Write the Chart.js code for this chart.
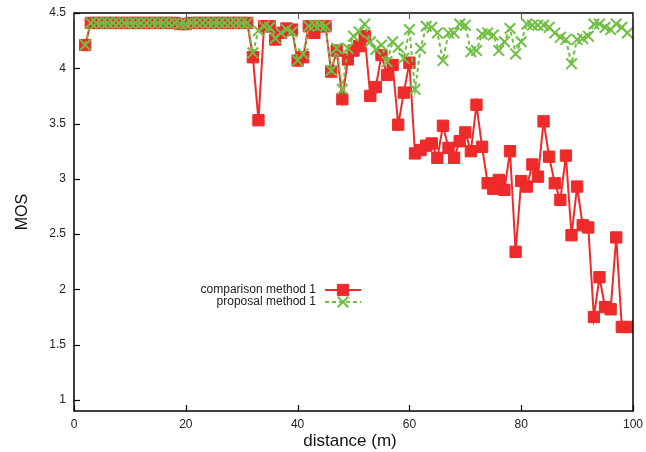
<!DOCTYPE html>
<html>
<head>
<meta charset="utf-8">
<script src="https://cdn.jsdelivr.net/npm/chart.js@4.4.1/dist/chart.umd.min.js"></script>
<style>
  html, body { margin: 0; padding: 0; background: #fff; }
  canvas { display: block; }
</style>
</head>
<body>
<canvas id="mosChart" width="646" height="452"></canvas>
<script>
// distance (m) of each sample
const distance = [
  2, 3, 4, 5, 6, 7, 8, 9, 10, 11, 12, 13, 14, 15, 16, 17, 18, 19, 20, 21,
  22, 23, 24, 25, 26, 27, 28, 29, 30, 31, 32, 33, 34, 35, 36, 37, 38, 39, 40, 41,
  42, 43, 44, 45, 46, 47, 48, 49, 50, 51, 52, 53, 54, 55, 56, 57, 58, 59, 60, 61,
  62, 63, 64, 65, 66, 67, 68, 69, 70, 71, 72, 73, 74, 75, 76, 77, 78, 79, 80, 81,
  82, 83, 84, 85, 86, 87, 88, 89, 90, 91, 92, 93, 94, 95, 96, 97, 98, 99
];

// MOS, comparison method 1
const comparisonMos = [
  4.21, 4.41, 4.41, 4.41, 4.41, 4.41, 4.41, 4.41, 4.41, 4.41, 4.41, 4.41, 4.41, 4.41, 4.41, 4.41, 4.41, 4.40, 4.40, 4.41,
  4.41, 4.41, 4.41, 4.41, 4.41, 4.41, 4.41, 4.41, 4.41, 4.41, 4.10, 3.53, 4.38, 4.38, 4.26, 4.32, 4.36, 4.35, 4.07, 4.10,
  4.38, 4.32, 4.38, 4.38, 3.97, 4.16, 3.72, 4.08, 4.16, 4.20, 4.29, 3.75, 3.83, 4.12, 3.94, 4.03, 3.49, 3.78, 4.05, 3.23,
  3.26, 3.30, 3.32, 3.19, 3.48, 3.28, 3.19, 3.34, 3.42, 3.25, 3.67, 3.29, 2.96, 2.91, 2.99, 2.90, 3.25, 2.34, 2.98, 2.93,
  3.13, 3.02, 3.52, 3.20, 2.96, 2.81, 3.21, 2.49, 2.93, 2.58, 2.56, 1.75, 2.11, 1.84, 1.82, 2.47, 1.66, 1.66
];

// MOS, proposal method 1
const proposalMos = [
  4.21, 4.41, 4.41, 4.41, 4.41, 4.41, 4.41, 4.41, 4.41, 4.41, 4.41, 4.41, 4.41, 4.41, 4.41, 4.41, 4.41, 4.40, 4.40, 4.41,
  4.41, 4.41, 4.41, 4.41, 4.41, 4.41, 4.41, 4.41, 4.41, 4.41, 4.14, 4.34, 4.38, 4.37, 4.27, 4.32, 4.35, 4.33, 4.07, 4.13,
  4.38, 4.39, 4.39, 4.38, 3.98, 4.18, 3.81, 4.18, 4.29, 4.33, 4.40, 4.24, 4.17, 4.21, 4.06, 4.24, 4.19, 4.09, 4.35, 3.81,
  4.18, 4.38, 4.37, 4.32, 4.07, 4.32, 4.32, 4.40, 4.39, 4.15, 4.16, 4.31, 4.32, 4.30, 4.16, 4.24, 4.36, 4.13, 4.24, 4.40,
  4.39, 4.39, 4.39, 4.37, 4.32, 4.28, 4.26, 4.04, 4.26, 4.27, 4.29, 4.40, 4.40, 4.37, 4.35, 4.40, 4.37, 4.32
];

const xTicks = [0, 20, 40, 60, 80, 100];
const xTickLabels = ["0", "20", "40", "60", "80", "100"];
const yTicks = [1, 1.5, 2, 2.5, 3, 3.5, 4, 4.5];
const yTickLabels = ["1", "1.5", "2", "2.5", "3", "3.5", "4", "4.5"];

const RED = "#ee2a2a";
const GREEN = "#6fbf44";
const FONT = "'Liberation Sans', Arial, Helvetica, sans-serif";

const toPoints = (ys) => distance.map((d, i) => ({ x: d, y: ys[i] }));

// box around the plot with inward tick marks, x label and the key
const framePlugin = {
  id: "frame",
  afterDatasetsDraw(chart) {
    const { ctx, chartArea: a, scales: { x, y } } = chart;
    ctx.save();

    ctx.strokeStyle = "#000";
    ctx.lineWidth = 1.5;
    ctx.strokeRect(a.left, a.top, a.right - a.left, a.bottom - a.top);

    ctx.lineWidth = 1.2;
    xTicks.forEach((v) => {
      const px = Math.round(x.getPixelForValue(v)) + 0.5;
      ctx.strokeStyle = "#000";
      ctx.beginPath();
      ctx.moveTo(px, a.bottom);
      ctx.lineTo(px, a.bottom - 6);
      ctx.stroke();
      ctx.strokeStyle = "#666";
      ctx.beginPath();
      ctx.moveTo(px, a.top);
      ctx.lineTo(px, a.top + 6);
      ctx.stroke();
    });
    ctx.strokeStyle = "#000";
    yTicks.forEach((v) => {
      const py = Math.round(y.getPixelForValue(v)) + 0.5;
      ctx.beginPath();
      ctx.moveTo(a.left, py);
      ctx.lineTo(a.left + 6, py);
      ctx.stroke();
    });

    // x axis label
    ctx.fillStyle = "#111";
    ctx.font = "17px " + FONT;
    ctx.textAlign = "center";
    ctx.textBaseline = "middle";
    ctx.fillText("distance (m)", 350, 441);

    // key: text on the left, sample line and marker on the right
    const keyRight = 316;
    const sampleX0 = 325;
    const sampleX1 = 361;
    const markX = 343;
    const rows = [
      { text: "comparison method 1", y: 290, color: RED, dash: [], point: { pointStyle: "rect", radius: 8, rotation: 0, borderWidth: 1 } },
      { text: "proposal method 1", y: 302, color: GREEN, dash: [4, 3], point: { pointStyle: "crossRot", radius: 7.5, rotation: 0, borderWidth: 2 } }
    ];
    ctx.font = "12px " + FONT;
    ctx.textAlign = "right";
    rows.forEach((r) => {
      ctx.fillStyle = "#222";
      ctx.fillText(r.text, keyRight, r.y);

      ctx.strokeStyle = r.color;
      ctx.lineWidth = 2;
      ctx.setLineDash(r.dash);
      ctx.beginPath();
      ctx.moveTo(sampleX0, r.y);
      ctx.lineTo(sampleX1, r.y);
      ctx.stroke();
      ctx.setLineDash([]);

      ctx.fillStyle = r.color;
      ctx.strokeStyle = r.color;
      ctx.lineWidth = r.point.borderWidth;
      Chart.helpers.drawPoint(ctx, r.point, markX, r.y);
    });

    ctx.restore();
  }
};

new Chart(document.getElementById("mosChart"), {
  type: "line",
  data: {
    datasets: [
      {
        label: "comparison method 1",
        data: toPoints(comparisonMos),
        borderColor: RED,
        backgroundColor: RED,
        borderWidth: 2,
        pointStyle: "rect",
        pointRadius: 8,
        pointBorderWidth: 1,
        pointBorderColor: RED,
        pointBackgroundColor: RED,
        tension: 0,
        order: 1
      },
      {
        label: "proposal method 1",
        data: toPoints(proposalMos),
        borderColor: GREEN,
        backgroundColor: GREEN,
        borderWidth: 2,
        borderDash: [4, 3],
        pointStyle: "crossRot",
        pointRadius: 7.5,
        pointBorderWidth: 2,
        pointBorderColor: GREEN,
        tension: 0,
        order: 0
      }
    ]
  },
  options: {
    responsive: false,
    devicePixelRatio: 1,
    animation: false,
    layout: { padding: { top: 13, right: 13, left: 0, bottom: 0 } },
    plugins: {
      legend: { display: false },
      tooltip: { enabled: false }
    },
    scales: {
      x: {
        type: "linear",
        min: 0,
        max: 100,
        afterBuildTicks: (s) => { s.ticks = xTicks.map((v) => ({ value: v })); },
        afterFit: (s) => { s.height = 41; s.paddingLeft = 0; s.paddingRight = 0; },
        grid: { display: false, drawTicks: false },
        border: { display: false },
        ticks: {
          padding: 6,
          maxRotation: 0,
          autoSkip: false,
          color: "#222",
          font: { family: FONT, size: 12 },
          callback: (v, i) => xTickLabels[i]
        }
      },
      y: {
        type: "linear",
        min: 0.9,
        max: 4.5,
        afterBuildTicks: (s) => { s.ticks = yTicks.map((v) => ({ value: v })); },
        afterFit: (s) => { s.width = 74; s.paddingTop = 0; s.paddingBottom = 0; },
        grid: { display: false, drawTicks: false },
        border: { display: false },
        ticks: {
          padding: 8,
          color: "#222",
          font: { family: FONT, size: 12 },
          callback: (v, i) => yTickLabels[i]
        },
        title: {
          display: true,
          text: "MOS",
          color: "#111",
          font: { family: FONT, size: 16 },
          padding: { top: 13, bottom: 0 }
        }
      }
    }
  },
  plugins: [framePlugin]
});
</script>
</body>
</html>
